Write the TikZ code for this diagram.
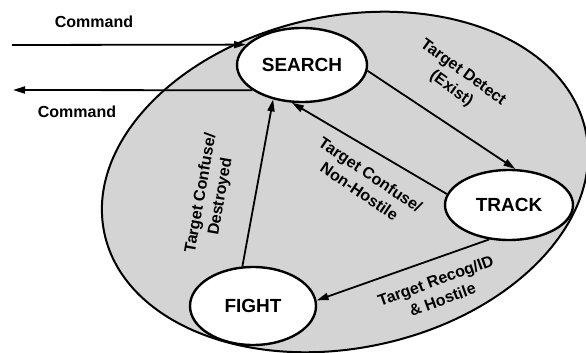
\documentclass[tikz,border=0pt]{standalone}
\usepackage{fontspec}
\setmainfont{Liberation Sans}
\usetikzlibrary{shapes.geometric,arrows.meta}
\begin{document}
\begin{tikzpicture}[x=1pt,y=1pt,
  state/.style={ellipse,draw,line width=2.4pt,fill=white,inner sep=0pt,
    font=\fontsize{19}{21}\selectfont\bfseries},
  trans/.style={-{Triangle[length=12pt,width=7pt]},line width=1.8pt},
  lbl/.style={font=\fontsize{16}{20}\selectfont\bfseries,align=center,inner sep=0pt},
  cmd/.style={font=\fontsize{16}{18}\selectfont\bfseries,inner sep=0pt}]
\useasboundingbox (0,0) rectangle (586,353);
\draw[line width=2pt,fill=black!17,rotate around={12:(345,171)}]
  (345,171) ellipse [x radius=246, y radius=166];
\node[state,minimum width=130pt,minimum height=74pt] (search) at (302,288) {SEARCH};
\node[state,minimum width=128pt,minimum height=70pt] (track) at (509,148) {TRACK};
\node[state,minimum width=126pt,minimum height=78pt] (fight) at (253,47) {FIGHT};
\coordinate (cin) at (12,308);
\coordinate (cout) at (13,263);
\draw[trans] (cin) -- (search.160);
\draw[trans] (search.207) -- (cout);
\node[cmd] (c1) at (94,331) {Command};
\node[cmd] (c2) at (77,241) {Command};
\draw[trans] (search.-5) -- (track.80);
\draw[trans] (track.170) -- (search.-105);
\draw[trans] (fight.105) -- (search.230);
\draw[trans] (track.240) -- (fight.5);
\node[lbl,rotate=-36] (l1) at (457,272) {Target Detect\\(Exist)};
\node[lbl,rotate=-34] (l2) at (365,170) {Target Confuse/\\Non-Hostile};
\node[lbl,rotate=80] (l3) at (211,158) {Target Confuse/\\Destroyed};
\node[lbl,rotate=20] (l4) at (439,63) {Target Recog/ID\\\& Hostile};
\end{tikzpicture}
\end{document}
